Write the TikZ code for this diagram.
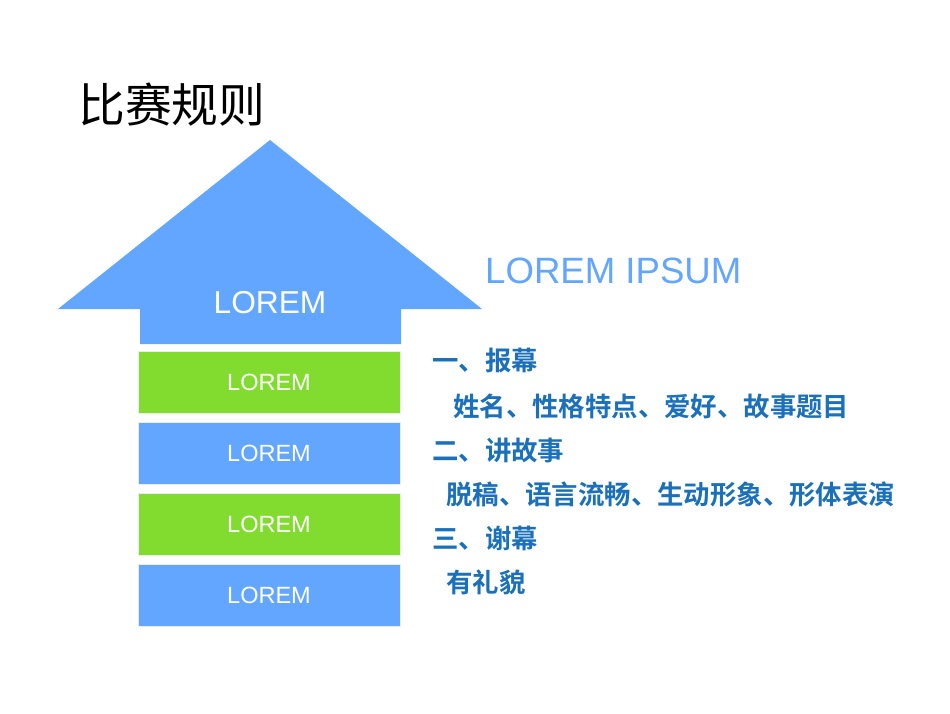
\documentclass[tikz,border=0pt]{standalone}
\usepackage{fontspec}
\setmainfont{Liberation Sans}
\newfontfamily\cjk{Noto Sans CJK SC}
\newfontfamily\cjkbold{Noto Sans CJK SC}[UprightFont=* Bold]
\definecolor{arrowblue}{HTML}{62A6FF}
\definecolor{boxgreen}{HTML}{82DC30}
\definecolor{listblue}{HTML}{1A70BA}
\begin{document}
\begin{tikzpicture}[x=1pt,y=-1pt,
  stack/.style={draw=white!85!gray, line width=0.8pt, minimum width=262pt, minimum height=62pt, inner sep=0pt, text=white, font=\fontsize{23.5}{23.5}\selectfont},
  listline/.style={anchor=west, inner sep=0pt, text=listblue, font=\cjkbold\fontsize{26.4}{26.4}\selectfont}]
\useasboundingbox (0,0) rectangle (950,713);
\fill[white] (0,0) rectangle (950,713);
\node[anchor=west, inner sep=0pt, font=\cjk\fontsize{46.8}{46.8}\selectfont] (title) at (78,105) {比赛规则};
\fill[arrowblue] (270,140) -- (482,309) -- (401,309) -- (401,344) -- (140,344) -- (140,309) -- (58,309) -- cycle;
\node[text=white, font=\fontsize{31.7}{31.7}\selectfont] (top) at (270,302.5) {LOREM};
\node[stack, fill=boxgreen] (b1) at (269,382.5) {\raisebox{-1.5pt}{LOREM}};
\node[stack, fill=arrowblue] (b2) at (269,453) {\raisebox{-1.5pt}{LOREM}};
\node[stack, fill=boxgreen] (b3) at (269,524) {\raisebox{-1.5pt}{LOREM}};
\node[stack, fill=arrowblue] (b4) at (269,595) {\raisebox{-1.5pt}{LOREM}};
\node[anchor=west, inner sep=0pt, text=arrowblue, font=\fontsize{36.6}{36.6}\selectfont] (head) at (485,271) {LOREM IPSUM};
\node[listline] (l1) at (432,360) {一、报幕};
\node[listline] (l2) at (453,406) {姓名、性格特点、爱好、故事题目};
\node[listline] (l3) at (432,450) {二、讲故事};
\node[listline] (l4) at (446,494) {脱稿、语言流畅、生动形象、形体表演};
\node[listline] (l5) at (432,538) {三、谢幕};
\node[listline] (l6) at (446,582) {有礼貌};
\end{tikzpicture}
\end{document}
